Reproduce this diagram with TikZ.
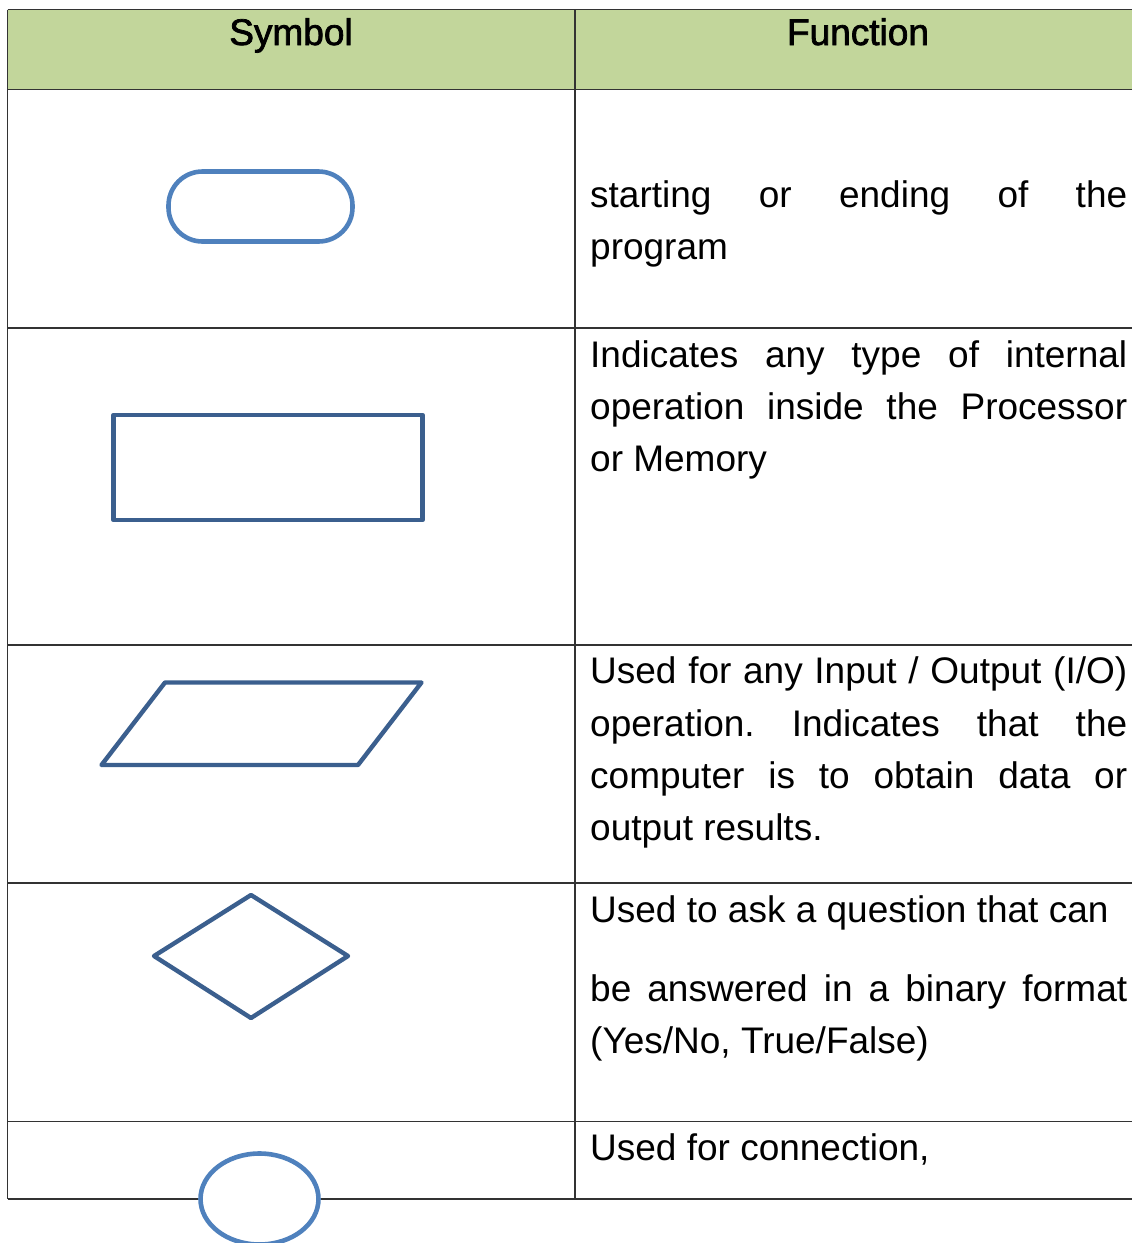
\documentclass[tikz,border=0pt]{standalone}
\usepackage{fontspec}
\setmainfont{Liberation Sans}
\newfontfamily\headfont[FakeBold=2]{Liberation Sans}
\definecolor{headgreen}{HTML}{C2D69B}
\definecolor{gridline}{HTML}{333333}
\definecolor{termblue}{HTML}{4F81BD}
\definecolor{shapeblue}{HTML}{3B5F8E}
\tikzset{
  gridln/.style={draw=gridline, line width=1.6pt},
  termshape/.style={draw=termblue, line width=4.6pt},
  symshape/.style={draw=shapeblue, line width=4.4pt, line join=round},
  headtxt/.style={anchor=base, inner sep=0pt, font=\headfont\fontsize{37}{44}\selectfont},
  bodytxt/.style={anchor=base west, inner sep=0pt, font=\fontsize{37}{52}\selectfont},
}
\newcommand{\jline}[1]{\makebox[537pt][s]{#1}}
\begin{document}
\frenchspacing
\begin{tikzpicture}[x=1pt,y=-1pt]
\useasboundingbox (0,0) rectangle (1132,1243);
\clip (0,0) rectangle (1132,1243);
% header fill
\fill[headgreen] (7.5,9.5) rectangle (1141,89.5);
% grid
\foreach \yy in {9.5,89.5,328,645,883,1121.5,1199}
  \draw[gridln] (7.5,\yy) -- (1141,\yy);
\draw[gridln] (7.5,9.5) -- (7.5,1199);
\draw[gridln] (575,9.5) -- (575,1199);
% header
\node[headtxt] (hsym) at (291,45) {Symbol};
\node[headtxt] (hfun) at (858,45) {Function};
% symbols
\draw[termshape, rounded corners=34pt] (168.5,171.5) rectangle (352.5,241.5);
\draw[symshape] (113.5,415) rectangle (422.5,520);
\draw[symshape] (101.5,765) -- (165,682.5) -- (421.5,682.5) -- (358,765) -- cycle;
\draw[symshape] (251,895) -- (348,956) -- (251,1018) -- (154,956) -- cycle;
\draw[termshape, fill=white] (259.5,1199) ellipse [x radius=59, y radius=45.5];
% row 1
\node[bodytxt] (r1a) at (590,207) {\jline{starting or ending of the}};
\node[bodytxt] (r1b) at (590,259) {program};
% row 2
\node[bodytxt] (r2a) at (590,367) {\jline{Indicates any type of internal}};
\node[bodytxt] (r2b) at (590,419) {\jline{operation inside the Processor}};
\node[bodytxt] (r2c) at (590,471) {or Memory};
% row 3
\node[bodytxt] (r3a) at (590,683) {\jline{Used for any Input / Output (I/O)}};
\node[bodytxt] (r3b) at (590,736) {\jline{operation. Indicates that the}};
\node[bodytxt] (r3c) at (590,788) {\jline{computer is to obtain data or}};
\node[bodytxt] (r3d) at (590,840) {output results.};
% row 4
\node[bodytxt] (r4a) at (590,922) {Used to ask a question that can};
\node[bodytxt] (r4b) at (590,1001) {\jline{be answered in a binary format}};
\node[bodytxt] (r4c) at (590,1053) {(Yes/No, True/False)};
% row 5
\node[bodytxt] (r5a) at (590,1160) {Used for connection,};
\end{tikzpicture}
\end{document}
